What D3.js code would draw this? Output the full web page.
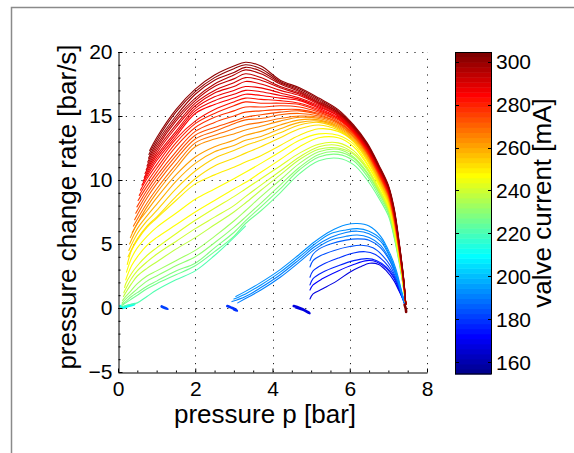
<!DOCTYPE html>
<html>
<head>
<meta charset="utf-8">
<script src="https://cdn.jsdelivr.net/npm/d3@7"></script>
<style>
  body { margin: 0; background: #fff; }
  svg { display: block; }
  text { font-family: "Liberation Sans", Arial, Helvetica, sans-serif; fill: #000; }
</style>
</head>
<body>
<svg id="chart" width="574" height="453"></svg>
<script>
// ---- axis ticks ----
const pressureTicks = [0, 2, 4, 6, 8];
const rateTicks = [-5, 0, 5, 10, 15, 20];
const currentTicks = [160, 180, 200, 220, 240, 260, 280, 300];
const currentRange = [154.5, 304.5];

// ---- upper family: rate sampled on a common pressure grid ----
const pressureGrid = [0.1, 0.2, 0.35, 0.5, 0.75, 1.0, 1.5, 2.0, 2.5, 3.0, 3.3, 3.7, 4.2, 4.7, 5.2, 5.7, 6.1, 6.45, 6.75, 7.0, 7.15, 7.3, 7.4, 7.45];
const n = null;

const upperCurrents = [302, 300, 298, 296, 294, 292, 290, 288, 286, 284,
                       282, 280, 277, 275, 272, 270, 267, 264,
                       261, 258, 255, 252, 250, 248, 246,
                       243, 240, 237, 234, 231, 228, 225, 221];

// first recorded sample of each trace [p, dp/dt]
const upperStarts = [[0.82, 12.3], [0.80, 12.0], [0.79, 11.7], [0.77, 11.4], [0.75, 11.1], [0.73, 10.8], [0.70, 10.5], [0.68, 10.2], [0.65, 9.9], [0.62, 9.6],
                     [0.58, 9.2], [0.55, 8.8], [0.52, 8.4], [0.49, 7.9], [0.46, 7.4], [0.43, 6.9], [0.40, 6.4], [0.37, 5.9],
                     [0.32, 5.5], [0.30, 5.0], [0.28, 4.5], [0.26, 4.0], [0.24, 3.4], [0.22, 2.8], [0.20, 2.2],
                     [0.17, 1.6], [0.15, 1.2], [0.14, 0.9], [0.12, 0.6], [0.11, 0.4], [0.10, 0.3], [0.10, 0.2], [0.10, 0.1]];

const upperRates = [
  [n, n, n, n, n, 13.3, 15.5, 17.1, 18.2, 18.9, 19.2, 18.9, 17.8, 17.2, 16.4, 15.5, 14.3, 12.9, 11.2, 9.6, 7.8, 4.7, 2.2, 0.3],
  [n, n, n, n, n, 13.1, 15.3, 16.9, 18.0, 18.7, 19.0, 18.7, 17.7, 17.1, 16.3, 15.4, 14.2, 12.8, 11.1, 9.5, 7.7, 4.6, 2.2, 0.3],
  [n, n, n, n, n, 12.9, 15.0, 16.7, 17.8, 18.4, 18.8, 18.5, 17.6, 17.0, 16.2, 15.3, 14.2, 12.8, 11.1, 9.5, 7.6, 4.6, 2.1, 0.3],
  [n, n, n, n, n, 12.7, 14.8, 16.4, 17.5, 18.2, 18.6, 18.3, 17.5, 16.9, 16.1, 15.3, 14.1, 12.7, 11.0, 9.4, 7.6, 4.5, 2.1, 0.3],
  [n, n, n, n, n, 12.5, 14.6, 16.2, 17.3, 17.9, 18.3, 18.0, 17.3, 16.8, 16.0, 15.2, 14.1, 12.7, 11.0, 9.4, 7.5, 4.5, 2.1, 0.3],
  [n, n, n, n, n, 12.3, 14.3, 16.0, 17.0, 17.6, 18.0, 17.8, 17.2, 16.7, 16.0, 15.2, 14.0, 12.6, 10.9, 9.3, 7.5, 4.5, 2.0, 0.3],
  [n, n, n, n, n, 12.1, 14.1, 15.8, 16.8, 17.3, 17.7, 17.5, 17.0, 16.6, 15.9, 15.1, 14.0, 12.6, 10.9, 9.3, 7.4, 4.4, 2.0, 0.3],
  [n, n, n, n, n, 11.9, 13.8, 15.6, 16.5, 17.0, 17.3, 17.2, 16.8, 16.4, 15.8, 15.0, 13.9, 12.5, 10.8, 9.2, 7.4, 4.4, 2.0, 0.3],
  [n, n, n, n, n, 11.7, 13.6, 15.4, 16.2, 16.7, 17.0, 16.9, 16.6, 16.3, 15.7, 15.0, 13.9, 12.5, 10.8, 9.2, 7.3, 4.4, 2.0, 0.3],
  [n, n, n, n, n, 11.5, 13.4, 15.2, 15.9, 16.4, 16.7, 16.6, 16.4, 16.2, 15.6, 14.9, 13.8, 12.4, 10.7, 9.1, 7.3, 4.3, 1.9, 0.3],
  [n, n, n, n, 10.1, 11.2, 13.2, 14.6, 15.5, 16.1, 16.4, 16.3, 16.2, 16.0, 15.5, 14.8, 13.8, 12.4, 10.7, 9.1, 7.2, 4.3, 1.9, 0.3],
  [n, n, n, n, 9.8, 10.9, 12.9, 14.4, 15.2, 15.8, 16.1, 16.0, 16.0, 15.9, 15.4, 14.8, 13.7, 12.3, 10.6, 9.0, 7.2, 4.3, 1.9, 0.3],
  [n, n, n, n, 9.5, 10.6, 12.6, 14.1, 14.9, 15.4, 15.7, 15.7, 15.8, 15.7, 15.3, 14.7, 13.7, 12.3, 10.6, 9.0, 7.1, 4.2, 1.9, 0.3],
  [n, n, n, n, 9.2, 10.3, 12.2, 13.8, 14.5, 15.0, 15.3, 15.4, 15.5, 15.5, 15.2, 14.6, 13.6, 12.2, 10.5, 8.9, 7.1, 4.2, 1.8, 0.3],
  [n, n, n, n, 8.9, 10.0, 11.9, 13.5, 14.1, 14.6, 14.9, 15.1, 15.3, 15.4, 15.1, 14.5, 13.6, 12.2, 10.5, 8.9, 7.0, 4.2, 1.8, 0.3],
  [n, n, n, n, 8.6, 9.7, 11.6, 13.2, 13.8, 14.4, 14.7, 14.8, 15.1, 15.2, 15.0, 14.5, 13.5, 12.1, 10.4, 8.8, 7.0, 4.1, 1.8, 0.3],
  [n, n, n, n, 8.2, 9.3, 11.2, 12.9, 13.5, 14.0, 14.3, 14.5, 14.8, 15.0, 14.9, 14.4, 13.4, 12.1, 10.4, 8.8, 6.9, 4.1, 1.8, 0.3],
  [n, n, n, n, 7.9, 9.0, 10.9, 12.6, 13.2, 13.6, 13.9, 14.2, 14.6, 14.9, 14.8, 14.3, 13.4, 12.0, 10.3, 8.7, 6.9, 4.1, 1.8, 0.3],
  [n, n, n, 6.6, 7.6, 8.6, 10.4, 11.8, 12.6, 13.1, 13.5, 13.8, 14.3, 14.7, 14.7, 14.2, 13.3, 11.9, 10.2, 8.6, 6.8, 4.0, 1.7, 0.3],
  [n, n, n, 6.2, 7.2, 8.1, 9.9, 11.3, 12.2, 12.7, 13.1, 13.4, 14.0, 14.5, 14.6, 14.1, 13.2, 11.8, 10.1, 8.5, 6.7, 4.0, 1.7, 0.3],
  [n, n, n, 5.8, 6.8, 7.6, 9.3, 10.7, 11.7, 12.3, 12.7, 13.1, 13.7, 14.3, 14.5, 14.0, 13.1, 11.7, 10.0, 8.4, 6.6, 3.9, 1.7, 0.3],
  [n, n, n, 5.4, 6.4, 7.1, 8.7, 10.1, 11.1, 11.7, 12.1, 12.6, 13.3, 14.0, 14.3, 13.9, 13.0, 11.6, 9.9, 8.3, 6.5, 3.9, 1.7, 0.3],
  [n, n, 4.5, 5.3, 6.3, 7.0, 8.4, 9.7, 10.4, 11.0, 11.4, 11.9, 12.7, 13.5, 14.0, 13.8, 13.0, 11.5, 9.8, 8.2, 6.4, 3.8, 1.6, 0.3],
  [n, n, 3.9, 4.7, 5.6, 6.3, 7.4, 8.5, 9.3, 10.1, 10.6, 11.3, 12.2, 13.1, 13.6, 13.5, 12.8, 11.3, 9.7, 8.1, 6.3, 3.7, 1.6, 0.3],
  [n, n, 3.3, 4.0, 4.9, 5.5, 6.5, 7.5, 8.4, 9.3, 9.8, 10.6, 11.6, 12.6, 13.3, 13.3, 12.6, 11.2, 9.6, 8.0, 6.2, 3.7, 1.6, 0.3],
  [n, 1.9, 2.7, 3.3, 4.1, 4.7, 5.8, 6.85, 7.8, 8.7, 9.3, 10.1, 11.1, 12.1, 12.8, 12.9, 12.3, 11.0, 9.4, 7.9, 6.1, 3.6, 1.6, 0.3],
  [n, 1.5, 2.3, 2.9, 3.6, 4.2, 5.2, 6.2, 7.1, 8.0, 8.7, 9.6, 10.7, 11.8, 12.6, 12.7, 12.1, 10.9, 9.3, 7.8, 6.0, 3.5, 1.5, 0.3],
  [n, 1.2, 1.9, 2.5, 3.1, 3.6, 4.6, 5.5, 6.5, 7.5, 8.2, 9.2, 10.4, 11.6, 12.4, 12.5, 12.0, 10.8, 9.2, 7.7, 5.9, 3.5, 1.5, 0.3],
  [n, 0.9, 1.4, 1.9, 2.5, 2.9, 3.7, 4.5, 5.6, 6.8, 7.6, 8.7, 10.0, 11.3, 12.2, 12.4, 11.8, 10.6, 9.1, 7.6, 5.8, 3.4, 1.5, 0.3],
  [n, 0.7, 1.1, 1.5, 2.1, 2.5, 3.3, 4.0, 5.1, 6.3, 7.1, 8.2, 9.6, 11.0, 12.0, 12.2, 11.7, 10.5, 9.0, 7.5, 5.7, 3.4, 1.4, 0.3],
  [n, 0.5, 0.9, 1.2, 1.7, 2.1, 2.9, 3.5, 4.7, 5.9, 6.8, 7.9, 9.3, 10.8, 11.8, 12.0, 11.5, 10.3, 8.8, 7.4, 5.6, 3.3, 1.4, 0.3],
  [n, 0.4, 0.7, 1.0, 1.5, 1.9, 2.6, 3.3, 4.4, 5.6, 6.6, 7.6, 9.0, 10.5, 11.5, 11.7, 11.2, 10.0, 8.6, 7.2, 5.5, 3.2, 1.4, 0.3],
  [n, 0.2, 0.3, 0.4, 0.9, 1.4, 2.2, 2.9, 4.1, 5.5, 6.4, n, n, n, n, n, n, n, n, n, n, n, n, n]
];

// ---- lower family: rising branches and arcs [p, dp/dt] ----
const lowerCurrents = [194, 193, 191, 190, 186, 183, 179, 176, 172, 168];
const lowerTraces = [
  [[3.05, 0.9], [3.3, 1.3], [3.7, 2.0], [4.2, 3.0], [4.7, 4.2], [5.1, 5.2], [5.5, 6.0], [5.9, 6.5], [6.2, 6.6], [6.5, 6.4], [6.8, 5.6], [7.05, 4.2], [7.2, 3.0], [7.32, 1.6], [7.42, 0.4]],
  [[3.0, 0.7], [3.3, 1.1], [3.7, 1.8], [4.2, 2.8], [4.7, 4.0], [5.1, 5.0], [5.5, 5.8], [5.9, 6.1], [6.2, 6.2], [6.5, 6.0], [6.8, 5.4], [7.05, 4.0], [7.2, 2.8], [7.32, 1.5], [7.42, 0.4]],
  [[2.95, 0.5], [3.3, 0.9], [3.7, 1.6], [4.2, 2.6], [4.7, 3.8], [5.1, 4.8], [5.5, 5.5], [5.9, 5.9], [6.2, 6.0], [6.5, 5.8], [6.8, 5.2], [7.05, 3.9], [7.2, 2.7], [7.32, 1.4], [7.42, 0.4]],
  [[3.1, 0.4], [3.4, 0.9], [3.7, 1.4], [4.2, 2.4], [4.7, 3.6], [5.1, 4.6], [5.5, 5.3], [5.9, 5.6], [6.2, 5.7], [6.5, 5.5], [6.8, 4.9], [7.05, 3.7], [7.2, 2.6], [7.32, 1.3], [7.42, 0.4]],
  [[4.97, 3.7], [5.05, 4.2], [5.2, 4.6], [5.5, 5.0], [5.9, 5.3], [6.2, 5.4], [6.5, 5.3], [6.8, 4.7], [7.05, 3.6], [7.2, 2.5], [7.32, 1.4], [7.4, 0.5]],
  [[4.97, 3.2], [5.05, 3.7], [5.25, 4.1], [5.6, 4.5], [6.0, 4.8], [6.3, 4.9], [6.6, 4.7], [6.85, 4.1], [7.05, 3.3], [7.2, 2.3], [7.32, 1.3], [7.4, 0.5]],
  [[4.97, 2.4], [5.05, 2.9], [5.3, 3.4], [5.7, 3.9], [6.1, 4.3], [6.4, 4.4], [6.65, 4.2], [6.9, 3.6], [7.1, 2.8], [7.25, 1.8], [7.35, 1.0], [7.42, 0.4]],
  [[4.97, 1.8], [5.05, 2.3], [5.3, 2.8], [5.7, 3.3], [6.1, 3.7], [6.45, 3.86], [6.7, 3.7], [6.95, 3.2], [7.15, 2.4], [7.28, 1.5], [7.37, 0.8], [7.42, 0.3]],
  [[4.97, 1.4], [5.05, 1.8], [5.3, 2.3], [5.7, 2.9], [6.1, 3.4], [6.45, 3.7], [6.7, 3.6], [6.95, 3.1], [7.15, 2.3], [7.28, 1.4], [7.37, 0.7], [7.42, 0.3]],
  [[4.97, 0.7], [5.05, 1.1], [5.3, 1.5], [5.66, 2.1], [6.0, 2.8], [6.26, 3.2], [6.52, 3.5], [6.75, 3.4], [6.95, 2.9], [7.15, 2.1], [7.28, 1.3], [7.38, 0.7]]
];

// ---- short runs that stall near zero rate ----
const stallCurrents = [211, 181, 180, 168, 303];
const stallTraces = [
  [[0.06, 0.15], [0.12, 0.0], [0.2, 0.1], [0.32, 0.2], [0.42, 0.3]],
  [[1.13, 0.12], [1.2, 0.02], [1.28, -0.08], [1.22, 0.0], [1.15, 0.08]],
  [[2.83, 0.15], [2.92, 0.05], [3.0, -0.05], [3.08, -0.22], [3.0, -0.1]],
  [[4.55, 0.15], [4.7, 0.0], [4.85, -0.2], [4.96, -0.4], [4.8, -0.15], [4.6, 0.05]],
  [[7.42, 0.25], [7.45, -0.05], [7.46, -0.3]]
];

// ---- MATLAB jet(64) colormap ----
function jet64() {
  const N = 64, m = 16;
  const u = [];
  for (let i = 1; i <= m; i++) u.push(i / m);
  for (let i = 1; i < m; i++) u.push(1);
  for (let i = m; i >= 1; i--) u.push(i / m);
  const J = d3.range(N).map(() => [0, 0, 0]);
  u.forEach((val, k) => {
    const g = Math.ceil(m / 2) + k + 1;
    const r = g + m, b = g - m;
    if (r >= 1 && r <= N) J[r - 1][0] = val;
    if (g >= 1 && g <= N) J[g - 1][1] = val;
    if (b >= 1 && b <= N) J[b - 1][2] = val;
  });
  return J.map(c => d3.rgb(c[0] * 255, c[1] * 255, c[2] * 255).formatHex());
}
const jet = jet64();
const colorOf = mA => {
  const t = (mA - currentRange[0]) / (currentRange[1] - currentRange[0]);
  return jet[Math.max(0, Math.min(63, Math.floor(t * 64)))];
};

// ---- layout ----
const svg = d3.select("#chart");
const x = d3.scaleLinear().domain([0, 8]).range([118, 427]);
const y = d3.scaleLinear().domain([-5, 20]).range([372, 52]);
const cY = d3.scaleLinear().domain(currentRange).range([374, 52]);
const tickFont = 21, labelFont = 26;

// figure frame
svg.append("path").attr("d", "M11.5,453 V7.5 H574")
  .attr("fill", "none").attr("stroke", "#8a8a8a").attr("stroke-width", 1.5);

// dotted grid
const grid = svg.append("g").attr("stroke", "#222").attr("stroke-width", 1)
  .attr("stroke-dasharray", "1.2,6.6").attr("fill", "none");
pressureTicks.filter(v => v > 0).forEach(v => {
  grid.append("line").attr("x1", Math.round(x(v)) + 0.5).attr("x2", Math.round(x(v)) + 0.5)
    .attr("y1", y(-5)).attr("y2", y(20));
});
rateTicks.filter(v => v > -5).forEach(v => {
  grid.append("line").attr("y1", Math.round(y(v)) + 0.5).attr("y2", Math.round(y(v)) + 0.5)
    .attr("x1", x(0)).attr("x2", x(8));
});

// traces
const line = d3.line().x(d => x(d[0])).y(d => y(d[1])).curve(d3.curveCatmullRom.alpha(0.5));
const series = [];
upperRates.forEach((row, i) => {
  const pts = [upperStarts[i]];
  row.forEach((v, j) => { if (v !== null) pts.push([pressureGrid[j], v]); });
  series.push({ mA: upperCurrents[i], pts, w: 1.1 });
});
lowerTraces.forEach((pts, i) => series.push({ mA: lowerCurrents[i], pts, w: 1.1 }));
stallTraces.forEach((pts, i) => series.push({ mA: stallCurrents[i], pts, w: 2.6 }));
series.sort((a, b) => a.mA - b.mA);

svg.append("g").selectAll("path").data(series).join("path")
  .attr("d", d => line(d.pts))
  .attr("fill", "none")
  .attr("stroke", d => colorOf(d.mA))
  .attr("stroke-width", d => d.w)
  .attr("stroke-linejoin", "round")
  .attr("stroke-linecap", "round");

// axes
const xAxis = d3.axisBottom(x).tickValues(pressureTicks).tickSize(-4).tickSizeOuter(0).tickPadding(9);
const yAxis = d3.axisLeft(y).tickValues(rateTicks).tickSize(-4).tickSizeOuter(0).tickPadding(6)
  .tickFormat(d => d < 0 ? "\u2212" + Math.abs(d) : d);
const gx = svg.append("g").attr("transform", "translate(0,372.5)").call(xAxis);
const gy = svg.append("g").attr("transform", "translate(118.5,0)").call(yAxis);
[gx, gy].forEach(g => {
  g.select(".domain").attr("stroke", "#000");
  g.selectAll(".tick line").attr("stroke", "#000");
  g.selectAll("text").attr("font-size", tickFont)
    .attr("font-family", "Liberation Sans, Arial, sans-serif").attr("fill", "#000");
});
// minor ticks
const xMinor = d3.range(0, 8.01, 0.5).filter(v => v % 2 !== 0);
const yMinor = d3.range(-5, 20.01, 1).filter(v => v % 5 !== 0);
svg.append("g").attr("transform", "translate(0,372.5)")
  .call(d3.axisBottom(x).tickValues(xMinor).tickSize(-2).tickSizeOuter(0).tickFormat(""))
  .call(g => g.select(".domain").remove());
svg.append("g").attr("transform", "translate(118.5,0)")
  .call(d3.axisLeft(y).tickValues(yMinor).tickSize(-2).tickSizeOuter(0).tickFormat(""))
  .call(g => g.select(".domain").remove());

// axis titles
svg.append("text").attr("x", 265).attr("y", 423).attr("text-anchor", "middle")
  .attr("font-size", labelFont).text("pressure p [bar]");
svg.append("text").attr("transform", "translate(76,207) rotate(-90)").attr("text-anchor", "middle")
  .attr("font-size", labelFont).text("pressure change rate [bar/s]");

// colorbar
const cb = svg.append("g");
const step = (currentRange[1] - currentRange[0]) / 64;
cb.selectAll("rect").data(jet).join("rect")
  .attr("x", 455).attr("width", 36)
  .attr("y", (d, i) => cY(currentRange[0] + (i + 1) * step))
  .attr("height", cY(currentRange[0]) - cY(currentRange[0] + step) + 0.5)
  .attr("fill", d => d);
cb.append("rect").attr("x", 455.5).attr("y", 52.5).attr("width", 36).attr("height", 321.5)
  .attr("fill", "none").attr("stroke", "#000");
currentTicks.forEach(v => {
  const ty = Math.round(cY(v)) + 0.5;
  cb.append("line").attr("x1", 455.5).attr("x2", 459).attr("y1", ty).attr("y2", ty).attr("stroke", "#000");
  cb.append("line").attr("x1", 491.5).attr("x2", 488).attr("y1", ty).attr("y2", ty).attr("stroke", "#000");
  cb.append("text").attr("x", 496).attr("y", cY(v)).attr("dy", "0.36em")
    .attr("font-size", tickFont).text(v);
});
svg.append("text").attr("transform", "translate(551,203) rotate(-90)").attr("text-anchor", "middle")
  .attr("font-size", labelFont).text("valve current [mA]");
</script>
</body>
</html>
